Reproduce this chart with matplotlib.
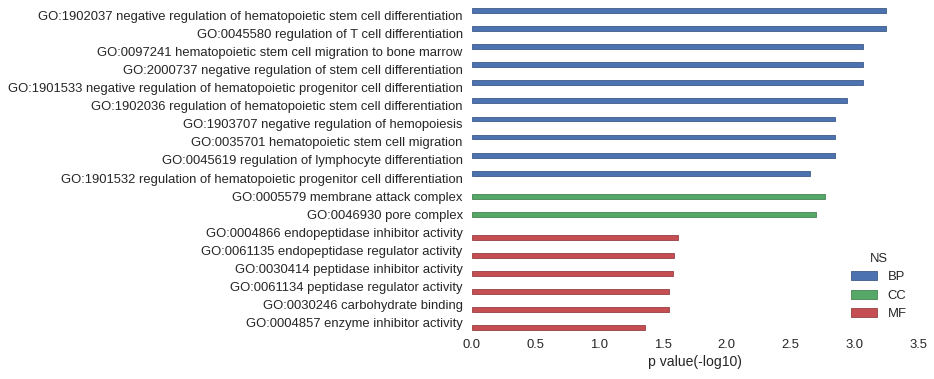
import numpy as np
import matplotlib
matplotlib.use("Agg")
import matplotlib.pyplot as plt
import seaborn as sns

# ------------ dados -----------------

terms = [
    "GO:1902037 negative regulation of hematopoietic stem cell differentiation",
    "GO:0045580 regulation of T cell differentiation",
    "GO:0097241 hematopoietic stem cell migration to bone marrow",
    "GO:2000737 negative regulation of stem cell differentiation",
    "GO:1901533 negative regulation of hematopoietic progenitor cell differentiation",
    "GO:1902036 regulation of hematopoietic stem cell differentiation",
    "GO:1903707 negative regulation of hemopoiesis",
    "GO:0035701 hematopoietic stem cell migration",
    "GO:0045619 regulation of lymphocyte differentiation",
    "GO:1901532 regulation of hematopoietic progenitor cell differentiation",
    "GO:0005579 membrane attack complex",
    "GO:0046930 pore complex",
    "GO:0004866 endopeptidase inhibitor activity",
    "GO:0061135 endopeptidase regulator activity",
    "GO:0030414 peptidase inhibitor activity",
    "GO:0061134 peptidase regulator activity",
    "GO:0030246 carbohydrate binding",
    "GO:0004857 enzyme inhibitor activity",
]
pvals = [3.25, 3.25, 3.07, 3.07, 3.07, 2.94, 2.85, 2.85, 2.85, 2.65,
         2.77, 2.70,
         1.62, 1.59, 1.58, 1.55, 1.55, 1.36]
ns = ["BP"] * 10 + ["CC"] * 2 + ["MF"] * 6

ns_order = ["BP", "CC", "MF"]
ns_colors = {"BP": "#4C72B0", "CC": "#55A868", "MF": "#C44E52"}
xticks = [0.0, 0.5, 1.0, 1.5, 2.0, 2.5, 3.0, 3.5]

# ------------ gráfico ---------------

sns.set_style("white")
plt.rcParams["font.family"] = ["Liberation Sans", "DejaVu Sans"]

fig = plt.figure(figsize=(934 / 72, 379 / 72), dpi=72)
ax = fig.add_axes([0.505, 0.124, 0.478, 0.86])

y = np.arange(len(terms))
w = 0.8 / len(ns_order)
for k, cat in enumerate(ns_order):
    idx = [i for i, c in enumerate(ns) if c == cat]
    off = -0.4 + w * (k + 0.5)
    col = ns_colors[cat]
    ax.barh(y[idx] + off, [pvals[i] for i in idx], height=w,
            color=col, edgecolor=tuple(c * 0.75 for c in matplotlib.colors.to_rgb(col)),
            linewidth=0.8, label=cat)

ax.set_yticks(y)
ax.set_yticklabels(terms, fontsize=13, color="#262626")
ax.set_ylim(len(terms) - 0.5, -0.5)
ax.set_xlim(0, 3.5)
ax.set_xticks(xticks)
ax.set_xticklabels([f"{v:.1f}" for v in xticks], fontsize=13, color="#262626")
ax.set_xlabel("p value(-log10)", fontsize=14, color="#262626")
ax.tick_params(axis="y", length=0, pad=9)
ax.tick_params(axis="x", length=0, pad=7)
for s in ax.spines.values():
    s.set_visible(False)

leg = ax.legend(title="NS", loc="lower right", frameon=False, fontsize=13,
                title_fontsize=13, handlelength=2.0, handleheight=0.7,
                bbox_to_anchor=(1.0, 0.0))

fig.savefig("out.png", dpi=72)
